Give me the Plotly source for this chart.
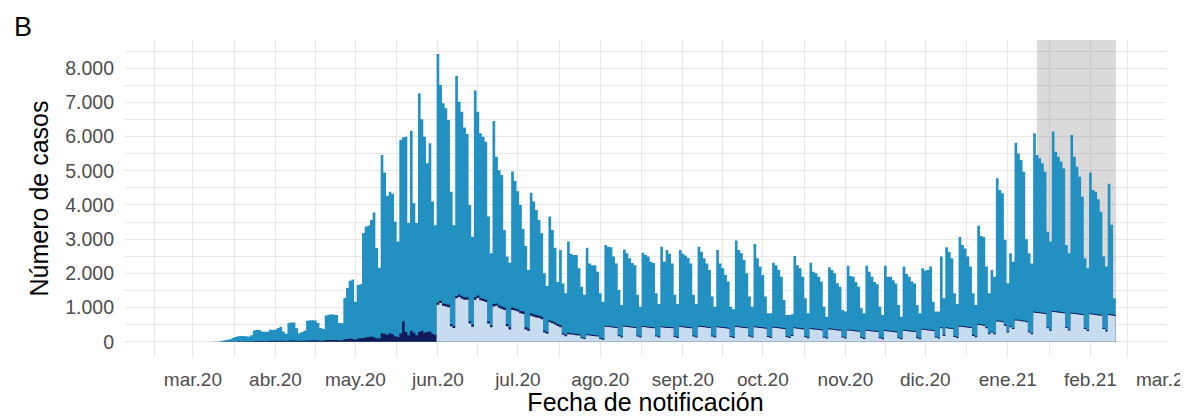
import pandas as pd
import plotly.graph_objects as go

# ---------------- data (daily counts, one row per week Mon..Sun) ----------------
start_date = "2020-03-09"
total = [
    3, 8, 15, 25, 40, 55, 75,
    110, 140, 160, 170, 170, 160, 150,
    190, 330, 340, 340, 300, 290, 290,
    350, 340, 360, 400, 440, 300, 230,
    550, 560, 560, 390, 250, 280, 330,
    610, 630, 630, 620, 545, 400, 370,
    770, 790, 800, 790, 780, 545, 540,
    1280, 1570, 1780, 1820, 1170, 1660, 1680,
    3180, 3370, 3400, 3560, 3780, 2740, 2160,
    5460, 4950, 4270, 4390, 4330, 3510, 2930,
    5900, 5980, 6000, 3470, 6170, 4050, 3470,
    7270, 6510, 6000, 5220, 5810, 4100, 3410,
    8420, 7510, 6980, 6830, 6490, 4390, 3410,
    7780, 7020, 6730, 6270, 6080, 4000, 3070,
    7350, 6730, 6100, 6000, 5850, 3660, 2590,
    6460, 5410, 5020, 4880, 3270, 2490, 2310,
    4980, 4700, 4400, 4000, 3300, 2800, 2100,
    4360, 4100, 3850, 3560, 3170, 2000, 1630,
    3660, 3270, 2750, 1750, 2680, 1700, 1420,
    2930, 2570, 2540, 2540, 2150, 1610, 1370,
    2750, 2290, 2240, 2240, 2050, 1420, 1170,
    2830, 2780, 2760, 2490, 2290, 1510, 1070,
    2700, 2590, 2440, 2300, 2240, 1370, 1020,
    2600, 2540, 2490, 2340, 2300, 1420, 1100,
    2780, 2340, 2680, 2570, 2290, 1370, 1100,
    2680, 2570, 2520, 2450, 2290, 1370, 1100,
    2780, 2630, 2440, 2290, 2100, 1320, 1020,
    2680, 2290, 2150, 1950, 1760, 1020, 950,
    2960, 2680, 2590, 2390, 2000, 1320, 1020,
    2860, 2440, 2200, 1950, 1320, 830, 830,
    2310, 2240, 2100, 1900, 1220, 780, 780,
    800, 2510, 2240, 2150, 1900, 1270, 830,
    2310, 2050, 2000, 1900, 1760, 1020, 730,
    2180, 2100, 2000, 1710, 1610, 930, 880,
    2220, 1920, 1900, 1750, 1610, 980, 830,
    2220, 2050, 1900, 1750, 1680, 1020, 780,
    2220, 1900, 1900, 1800, 1700, 1070, 730,
    2200, 1980, 1900, 1760, 1700, 1070, 830,
    2150, 2080, 2100, 2200, 1170, 880, 880,
    2490, 1270, 2760, 2630, 2440, 1420, 1100,
    3060, 2830, 2730, 2490, 2200, 1420, 1070,
    3390, 3090, 3060, 2200, 1420, 2100, 1900,
    4780, 4440, 4340, 2980, 1710, 2590, 2340,
    5820, 5510, 5320, 4970, 3000, 2590, 2290,
    6100, 5460, 5370, 5220, 4970, 3220, 2930,
    6150, 5560, 5410, 5270, 5070, 2830, 2590,
    6050, 5410, 5120, 4830, 4240, 2440, 2150,
    4950, 4440, 4390, 4170, 3800, 2490, 2200,
    4620, 3420, 1270,
]

navy = [
    0, 0, 1, 2, 3, 4, 5,
    6, 8, 10, 12, 12, 12, 12,
    15, 18, 20, 22, 22, 20, 20,
    25, 25, 28, 30, 30, 25, 22,
    30, 32, 35, 30, 25, 25, 30,
    35, 38, 40, 40, 38, 30, 30,
    45, 48, 50, 52, 50, 40, 38,
    70, 80, 90, 80, 60, 90, 100,
    110, 120, 140, 150, 130, 100, 90,
    250, 230, 200, 250, 220, 160, 140,
    240, 600, 280, 190, 320, 260, 190,
    280, 320, 260, 280, 300, 230, 200,
    1150, 1200, 1120, 1100, 1080, 520, 460,
    1340, 1380, 1330, 1300, 1300, 600, 500,
    1300, 1350, 1280, 1260, 1230, 600, 480,
    1100, 1120, 1060, 1030, 1000, 520, 420,
    1000, 980, 950, 900, 880, 420, 380,
    830, 800, 780, 760, 730, 330, 280,
    630, 600, 560, 520, 480, 250, 200,
    260, 250, 240, 230, 220, 130, 110,
    220, 210, 200, 190, 180, 110, 90,
    470, 460, 450, 440, 430, 190, 150,
    470, 460, 450, 440, 430, 180, 150,
    460, 450, 440, 430, 420, 180, 150,
    450, 440, 430, 430, 420, 170, 140,
    460, 450, 440, 430, 420, 180, 150,
    470, 460, 450, 440, 430, 180, 150,
    450, 440, 430, 420, 410, 170, 140,
    460, 450, 440, 430, 420, 180, 150,
    450, 440, 430, 420, 410, 170, 140,
    440, 430, 420, 410, 400, 170, 140,
    200, 420, 410, 400, 390, 160, 130,
    400, 390, 380, 370, 360, 150, 120,
    390, 380, 370, 360, 350, 150, 120,
    360, 350, 340, 330, 320, 140, 110,
    350, 340, 330, 320, 310, 130, 100,
    340, 330, 320, 310, 300, 130, 100,
    350, 340, 330, 320, 310, 130, 100,
    380, 370, 360, 350, 340, 150, 120,
    420, 200, 420, 410, 400, 170, 140,
    470, 460, 450, 440, 430, 200, 160,
    520, 510, 500, 420, 250, 300, 250,
    620, 610, 600, 500, 300, 450, 400,
    650, 640, 630, 620, 600, 300, 250,
    880, 870, 860, 850, 840, 420, 350,
    900, 890, 880, 870, 860, 430, 360,
    850, 840, 830, 820, 810, 400, 340,
    830, 820, 810, 800, 790, 400, 330,
    810, 800, 780,
]

light_start = "2020-06-01"
light = [
    1080, 1130, 1050, 1030, 1010, 450, 400,
    1270, 1310, 1260, 1230, 1230, 530, 440,
    1230, 1280, 1210, 1190, 1160, 530, 420,
    1030, 1050, 990, 960, 930, 450, 360,
    930, 910, 880, 830, 810, 360, 320,
    760, 730, 710, 690, 660, 270, 230,
    570, 540, 500, 460, 420, 200, 160,
    220, 210, 200, 190, 180, 100, 80,
    190, 180, 170, 160, 150, 80, 60,
    440, 430, 420, 410, 400, 160, 120,
    440, 430, 420, 410, 400, 150, 120,
    430, 420, 410, 400, 390, 150, 120,
    420, 410, 400, 400, 390, 140, 110,
    430, 420, 410, 400, 390, 150, 120,
    440, 430, 420, 410, 400, 150, 120,
    420, 410, 400, 390, 380, 140, 110,
    430, 420, 410, 400, 390, 150, 120,
    420, 410, 400, 390, 380, 140, 110,
    410, 400, 390, 380, 370, 140, 110,
    170, 390, 380, 370, 360, 130, 100,
    370, 360, 350, 340, 330, 120, 90,
    360, 350, 340, 330, 320, 120, 90,
    330, 320, 310, 300, 290, 110, 80,
    320, 310, 300, 290, 280, 100, 70,
    310, 300, 290, 280, 270, 100, 70,
    320, 310, 300, 290, 280, 100, 70,
    350, 340, 330, 320, 310, 120, 90,
    390, 170, 390, 380, 370, 140, 110,
    440, 430, 420, 410, 400, 170, 130,
    490, 480, 470, 390, 220, 270, 220,
    590, 580, 570, 470, 270, 420, 370,
    620, 610, 600, 590, 570, 270, 220,
    850, 840, 830, 820, 810, 390, 320,
    870, 860, 850, 840, 830, 400, 330,
    820, 810, 800, 790, 780, 370, 310,
    800, 790, 780, 770, 760, 370, 300,
    780, 770, 750,
]

month_labels = ["mar.20", "abr.20", "may.20", "jun.20", "jul.20", "ago.20",
                "sept.20", "oct.20", "nov.20", "dic.20", "ene.21", "feb.21", "mar.21"]
y_ticks = [0, 1000, 2000, 3000, 4000, 5000, 6000, 7000, 8000]
y_labels = ["0", "1.000", "2.000", "3.000", "4.000", "5.000", "6.000", "7.000", "8.000"]

shade_start = "2021-01-11 22:00"
shade_end = "2021-02-10 14:00"

# ---------------- styling ----------------
MED = "#2290c1"
NAVY = "#101c5a"
LIGHT = "#c8dcf0"
GRID = "#e8e8e8"
X_RANGE = ["2020-02-04 12:00", "2021-03-01 09:00"]
Y_RANGE = [-448, 8828]
FONT = "Liberation Sans, Arial, sans-serif"
W, H = 1180, 408          # page adds an 8px body margin
ML, MR, MT, MB = 117, 22, 32, 59

assert len(total) == len(navy)
dates = pd.date_range(start_date, periods=len(total), freq="D")
light_dates = pd.date_range(light_start, periods=len(light), freq="D")
month_ticks = pd.date_range("2020-03-01", periods=len(month_labels), freq="MS")


def daily_steps(days, values):
    """Daily columns drawn as a step outline: each day spans +/- 12h around its date."""
    half = pd.Timedelta(hours=12)
    xs = list(days - half) + [days[-1] + half]
    ys = list(values) + [values[-1]]
    return xs, ys


fig = go.Figure()
for days, vals, col, nm in [(dates, total, MED, "total"),
                            (dates, navy, NAVY, "navy"),
                            (light_dates, light, LIGHT, "light")]:
    xs, ys = daily_steps(days, vals)
    fig.add_trace(go.Scatter(x=xs, y=ys, mode="lines", line=dict(width=0, shape="hv", color=col),
                             fill="tozeroy", fillcolor=col, name=nm, hoverinfo="skip"))

fig.add_shape(type="rect", xref="x", yref="y", x0=shade_start, x1=shade_end,
              y0=0, y1=Y_RANGE[1], fillcolor="rgba(120,120,120,0.27)",
              line=dict(width=0), layer="between")

major = pd.date_range("2020-02-01", "2021-03-01", freq="MS")
minor_vals = list(major[:-1] + (major[1:] - major[:-1]) / 2)

fig.update_layout(
    width=W, height=H,
    margin=dict(l=ML, r=MR, t=MT, b=MB, autoexpand=False),
    plot_bgcolor="white", paper_bgcolor="white",
    showlegend=False,
    font=dict(family=FONT, size=19, color="#4d4d4d"),
)
fig.update_xaxes(
    type="date", range=X_RANGE,
    tickmode="array", tickvals=list(month_ticks), ticktext=month_labels,
    showgrid=True, gridcolor=GRID, gridwidth=1.3,
    minor=dict(tickmode="array", tickvals=minor_vals, showgrid=True,
               gridcolor=GRID, gridwidth=0.9),
    zeroline=False, showline=False, ticks="", ticklabelstandoff=9,
    ticklabeloverflow="allow",
    tickfont=dict(family=FONT, size=19, color="#4d4d4d"),
    title=dict(text="Fecha de notificación", standoff=3,
               font=dict(family=FONT, size=25, color="black")),
)
fig.update_yaxes(
    range=Y_RANGE, tickmode="array", tickvals=y_ticks, ticktext=y_labels,
    showgrid=True, gridcolor=GRID, gridwidth=1.3,
    minor=dict(dtick=500, tick0=0, showgrid=True, gridcolor=GRID, gridwidth=0.9),
    zeroline=False, showline=False, ticks="", ticklabelstandoff=10,
    tickfont=dict(family=FONT, size=19.5, color="#4d4d4d"),
    title=dict(text="Número de casos", standoff=9,
               font=dict(family=FONT, size=25, color="black")),
)
fig.add_annotation(text="B", xref="paper", yref="paper",
                   x=(4 - ML) / (W - ML - MR), y=(H - MB - 19) / (H - MT - MB),
                   xanchor="left", yanchor="middle", showarrow=False,
                   font=dict(family=FONT, size=27, color="black"))

fig.write_html("out.html")
